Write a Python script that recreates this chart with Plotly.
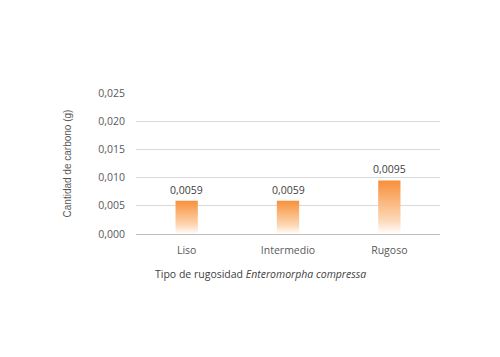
import plotly.graph_objects as go

categories = ["Liso", "Intermedio", "Rugoso"]
values = [0.0059, 0.0059, 0.0095]
y_ticks = [0.0, 0.005, 0.010, 0.015, 0.020, 0.025]
x_title = "Tipo de rugosidad <i>Enteromorpha compressa</i>"
y_title = "Cantidad de carbono (g)"

BAR_HALF = 0.11
font = "Open Sans, Liberation Sans, sans-serif"
fig = go.Figure()
for i, (c, v) in enumerate(zip(categories, values)):
    fig.add_trace(go.Scatter(
        x=[i - BAR_HALF, i - BAR_HALF, i + BAR_HALF, i + BAR_HALF, i - BAR_HALF],
        y=[0, v, v, 0, 0],
        mode="lines", line=dict(width=0), fill="toself",
        fillgradient=dict(type="vertical",
                          colorscale=[[0, "rgba(255,255,255,1)"], [0.25, "#FDD9B8"], [1, "#F7903A"]]),
        hoverinfo="skip", showlegend=False, name=c,
    ))
    fig.add_annotation(
        x=i, y=v, text=f"{v:.4f}".replace(".", ","), showarrow=False,
        yanchor="bottom", yshift=2,
        font=dict(family=font, size=10.5, color="#404040"),
    )

# x-axis title placed as an annotation (it sits left of the plot centre in the original)
fig.add_annotation(
    xref="paper", yref="paper", x=0.408, y=0, yanchor="top", yshift=-31,
    text=x_title, showarrow=False,
    font=dict(family=font, size=10.5, color="#404040"),
)

# page body has an 8px default margin; margins compensate for it
fig.update_layout(
    width=500, height=357,
    margin=dict(l=128, r=68, t=85, b=131),
    paper_bgcolor="white", plot_bgcolor="white",
    separators=",.",
    font=dict(family=font, size=10.5, color="#595959"),
    xaxis=dict(
        range=[-0.5, 2.5], tickvals=list(range(len(categories))), ticktext=categories,
        showgrid=False, zeroline=False, showline=False, ticks="",
        ticklabelstandoff=8,
        tickfont=dict(size=10.5, color="#595959"),
    ),
    yaxis=dict(
        range=[0, 0.025], tickvals=y_ticks, tickformat=".3f",
        showgrid=True, gridcolor="#D9D9D9", gridwidth=1,
        zeroline=True, zerolinecolor="#BFBFBF", zerolinewidth=1,
        showline=False, ticks="", ticklabelstandoff=10,
        tickfont=dict(size=10.5, color="#595959"),
        title=dict(text=y_title,
                   font=dict(family="Liberation Sans, Arial, sans-serif", size=10, color="#595959"),
                   standoff=24),
    ),
)

fig.write_html("out.html")
